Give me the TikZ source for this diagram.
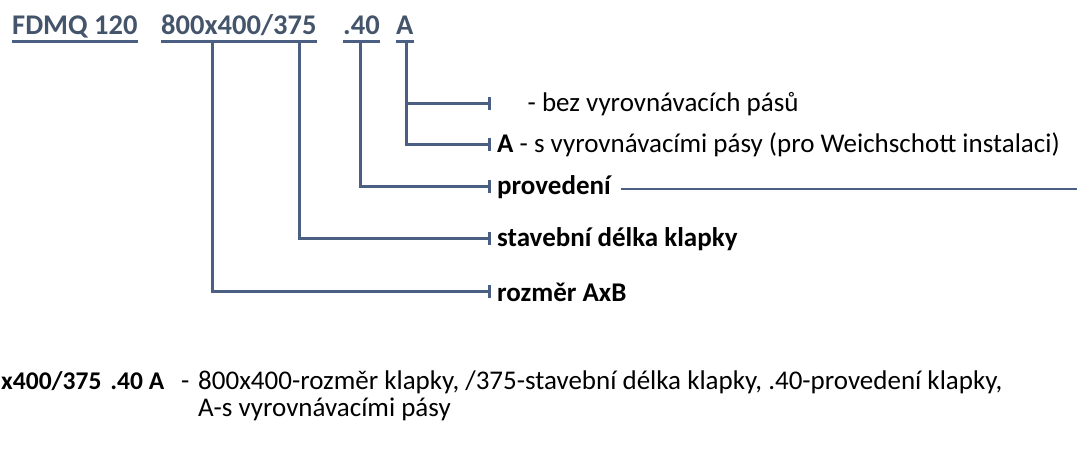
\documentclass[tikz,border=0pt]{standalone}
\usepackage{fontspec}
\setmainfont{Carlito}
\usetikzlibrary{arrows.meta,calc,positioning}
\definecolor{codeblue}{HTML}{44546A}
\definecolor{linkblue}{HTML}{4A5F82}
\tikzset{
  code/.style={anchor=base west,inner sep=0pt,text=codeblue,font=\fontsize{28.5}{32}\selectfont\bfseries},
  uline/.style={draw=linkblue,line width=3pt},
  conn/.style={draw=linkblue,line width=3pt,-{Bar[width=13pt]}},
  tail/.style={draw=linkblue,line width=2.2pt},
  lbl/.style={anchor=west,inner sep=0pt,font=\fontsize{27}{31}\selectfont},
  note/.style={anchor=base west,inner sep=0pt,font=\fontsize{27}{31}\selectfont}
}

\begin{document}
\begin{tikzpicture}[x=1pt,y=1pt,line join=miter]
\useasboundingbox (0,0) rectangle (1077,465);
% --- type code
\node[code] (fdmq) at (12,430) {FDMQ 120};
\node[code] (dim) at (161,430) {800x400/375};
\node[code] (ver) at (343,430) {.40};
\node[code] (opt) at (396,430) {A};
\foreach \n in {fdmq,dim,ver,opt}
  \draw[uline] ([yshift=-7pt]\n.base west) -- ([yshift=-7pt]\n.base east);
% --- drop points and bar ends
\coordinate (uAxB) at (212,423); \coordinate (uLen) at (299,423);
\coordinate (uVer) at (360,423); \coordinate (uOpt) at (406,423);
\coordinate (eAxB) at (491,173); \coordinate (eLen) at (491,226);
\coordinate (eVer) at (491,278); \coordinate (eOpt) at (491,320);
\coordinate (eNone) at (491,361);
% --- labels
\node[lbl,right=6pt of eNone] (none) {\phantom{\textbf{A}}\hspace{8pt} - bez vyrovnávacích pásů};
\node[lbl,right=6pt of eOpt] (strips) {\textbf{A} - s vyrovnávacími pásy (pro Weichschott instalaci)};
\node[lbl,right=6pt of eVer,font=\fontsize{27}{31}\selectfont\bfseries] (prov) {provedení};
\node[lbl,right=6pt of eLen,font=\fontsize{27}{31}\selectfont\bfseries] (len) {stavební délka klapky};
\node[lbl,right=6pt of eAxB,font=\fontsize{27}{31}\selectfont\bfseries] (axb) {rozměr AxB};
% --- connectors
\draw[conn] (uOpt) |- (eOpt);
\draw[conn] (uOpt |- eNone) -- (eNone);
\draw[conn] (uVer) |- (eVer);
\draw[conn] (uLen) |- (eLen);
\draw[conn] (uAxB) |- (eAxB);
\coordinate (tailEnd) at (1077,276);
\draw[tail] ([xshift=10pt]prov.east |- tailEnd) -- (tailEnd);
% --- example line
\node[note,font=\fontsize{25.5}{30}\selectfont\bfseries] (key) at (1,75) {x400/375\hspace{9pt}.40 A};
\node[note] (dash) at (181,75) {-};
\node[note] (expl) at (198,75) {800x400-rozměr klapky, /375-stavební délka klapky, .40-provedení klapky,};
\node[note] (expl2) at ([yshift=-27pt]expl.base west) {A-s vyrovnávacími pásy};
\end{tikzpicture}
\end{document}
